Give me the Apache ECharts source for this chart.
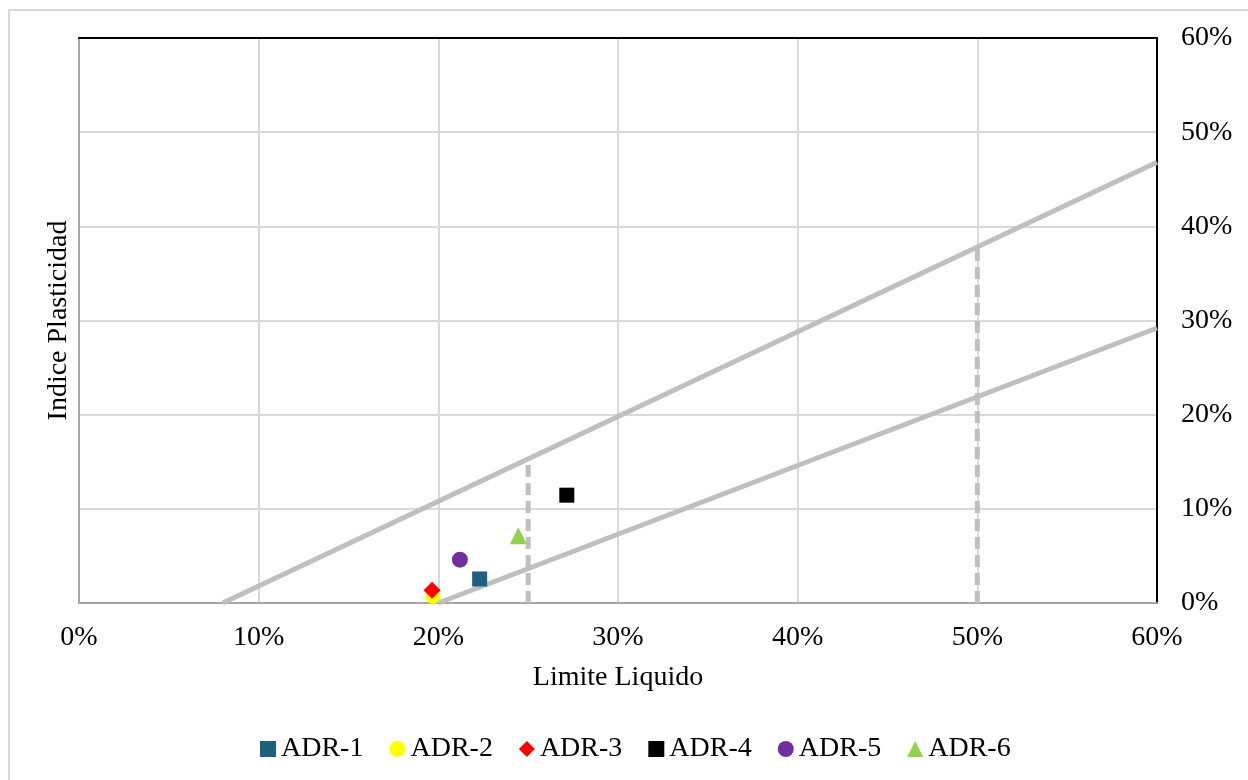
<!DOCTYPE html>
<html>
<head>
<meta charset="utf-8">
<script src="https://cdn.jsdelivr.net/npm/echarts@6/dist/echarts.min.js"></script>
<style>
  html, body { margin: 0; padding: 0; background: #fff; }
  #frame { position: absolute; left: 8px; top: 9px; width: 1260px; height: 800px;
           border-left: 2px solid #d9d9d9; border-top: 2px solid #d9d9d9; }
  #chart { position: absolute; left: 0; top: 0; width: 1248px; height: 780px; }
</style>
</head>
<body>
<div id="frame"></div>
<div id="chart"></div>
<script>
// Sample points: [liquid limit %, plasticity index %]
const sampleNames = ['ADR-1', 'ADR-2', 'ADR-3', 'ADR-4', 'ADR-5', 'ADR-6'];
const adr1 = [[22.3, 2.55]];
const adr2 = [[19.7, 0.7]];
const adr3 = [[19.65, 1.35]];
const adr4 = [[27.15, 11.45]];
const adr5 = [[21.2, 4.6]];
const adr6 = [[24.45, 7.15]];
const sampleData = [adr1, adr2, adr3, adr4, adr5, adr6];
const sampleColors = ['#1f5f7f', '#ffff00', '#ff0000', '#000000', '#7030a0', '#92d050'];
const sampleSymbols = ['rect', 'circle', 'diamond', 'rect', 'circle', 'triangle'];
const sampleSizes = [15, 15, 17, 15, 16, 17];

// Reference lines of the plasticity chart
const upperLine = [[8, 0], [60, 46.8]];
const aLine = [[20, 0], [60, 29.2]];
const dashLow = [[25, 0], [25, 15.3]];
const dashHigh = [[50, 0], [50, 37.8]];

const axisTicks = [0, 10, 20, 30, 40, 50, 60];

const FONT = '"Liberation Serif", "Times New Roman", serif';
const chart = echarts.init(document.getElementById('chart'));

const refStyle = { color: '#bfbfbf', width: 5, opacity: 1 };
function refSeries(data, dashed) {
  return {
    type: 'line', data: data, xAxisIndex: 0, yAxisIndex: 0,
    showSymbol: false, silent: true, z: 1,
    lineStyle: Object.assign({}, refStyle, dashed ? { type: [12, 6] } : {})
  };
}

const series = [
  refSeries(upperLine, false),
  refSeries(aLine, false),
  refSeries(dashLow, true),
  refSeries(dashHigh, true)
];
sampleNames.forEach((n, i) => {
  series.push({
    name: n, type: 'scatter', data: sampleData[i],
    xAxisIndex: 0, yAxisIndex: 0, z: 5,
    symbol: sampleSymbols[i], symbolSize: sampleSizes[i],
    itemStyle: { color: sampleColors[i], opacity: 1 }
  });
});

const labelStyle = { fontFamily: FONT, fontSize: 28, color: '#000' };
const pct = v => v + '%';

chart.setOption({
  animation: false,
  backgroundColor: 'transparent',
  grid: { left: 79, right: 91, top: 38, bottom: 177 },
  legend: {
    data: sampleNames.map((n, i) => ({ name: n, icon: sampleSymbols[i], itemStyle: { opacity: 1 } })),
    bottom: 12, left: 255,
    itemWidth: 16, itemHeight: 16, itemGap: 26,
    textStyle: { fontFamily: FONT, fontSize: 28, color: '#000' }
  },
  xAxis: [
    {
      type: 'value', position: 'bottom', min: axisTicks[0], max: axisTicks[axisTicks.length - 1], interval: 10,
      axisLine: { show: true, onZero: false, lineStyle: { color: '#a6a6a6', width: 2 } },
      axisTick: { show: false },
      axisLabel: Object.assign({ formatter: pct, margin: 21 }, labelStyle),
      splitLine: { show: true, lineStyle: { color: '#d9d9d9', width: 2 } },
      name: 'Limite Liquido', nameLocation: 'middle', nameGap: 61,
      nameTextStyle: labelStyle
    },
    {
      type: 'value', position: 'top', min: 0, max: 60, interval: 10,
      axisLine: { show: true, onZero: false, lineStyle: { color: '#000', width: 2 } },
      axisTick: { show: false }, axisLabel: { show: false }, splitLine: { show: false }
    }
  ],
  yAxis: [
    {
      type: 'value', position: 'left', min: 0, max: 60, interval: 10,
      axisLine: { show: true, onZero: false, lineStyle: { color: '#a6a6a6', width: 2 } },
      axisTick: { show: false }, axisLabel: { show: false },
      splitLine: { show: true, lineStyle: { color: '#d9d9d9', width: 2 } },
      name: 'Indice Plasticidad', nameLocation: 'middle', nameGap: 6,
      nameTextStyle: labelStyle
    },
    {
      type: 'value', position: 'right', min: 0, max: 60, interval: 10,
      axisLine: { show: true, onZero: false, lineStyle: { color: '#000', width: 2 } },
      axisTick: { show: false },
      axisLabel: Object.assign({ formatter: pct, margin: 24 }, labelStyle),
      splitLine: { show: false }
    }
  ],
  series: series
});
</script>
</body>
</html>
